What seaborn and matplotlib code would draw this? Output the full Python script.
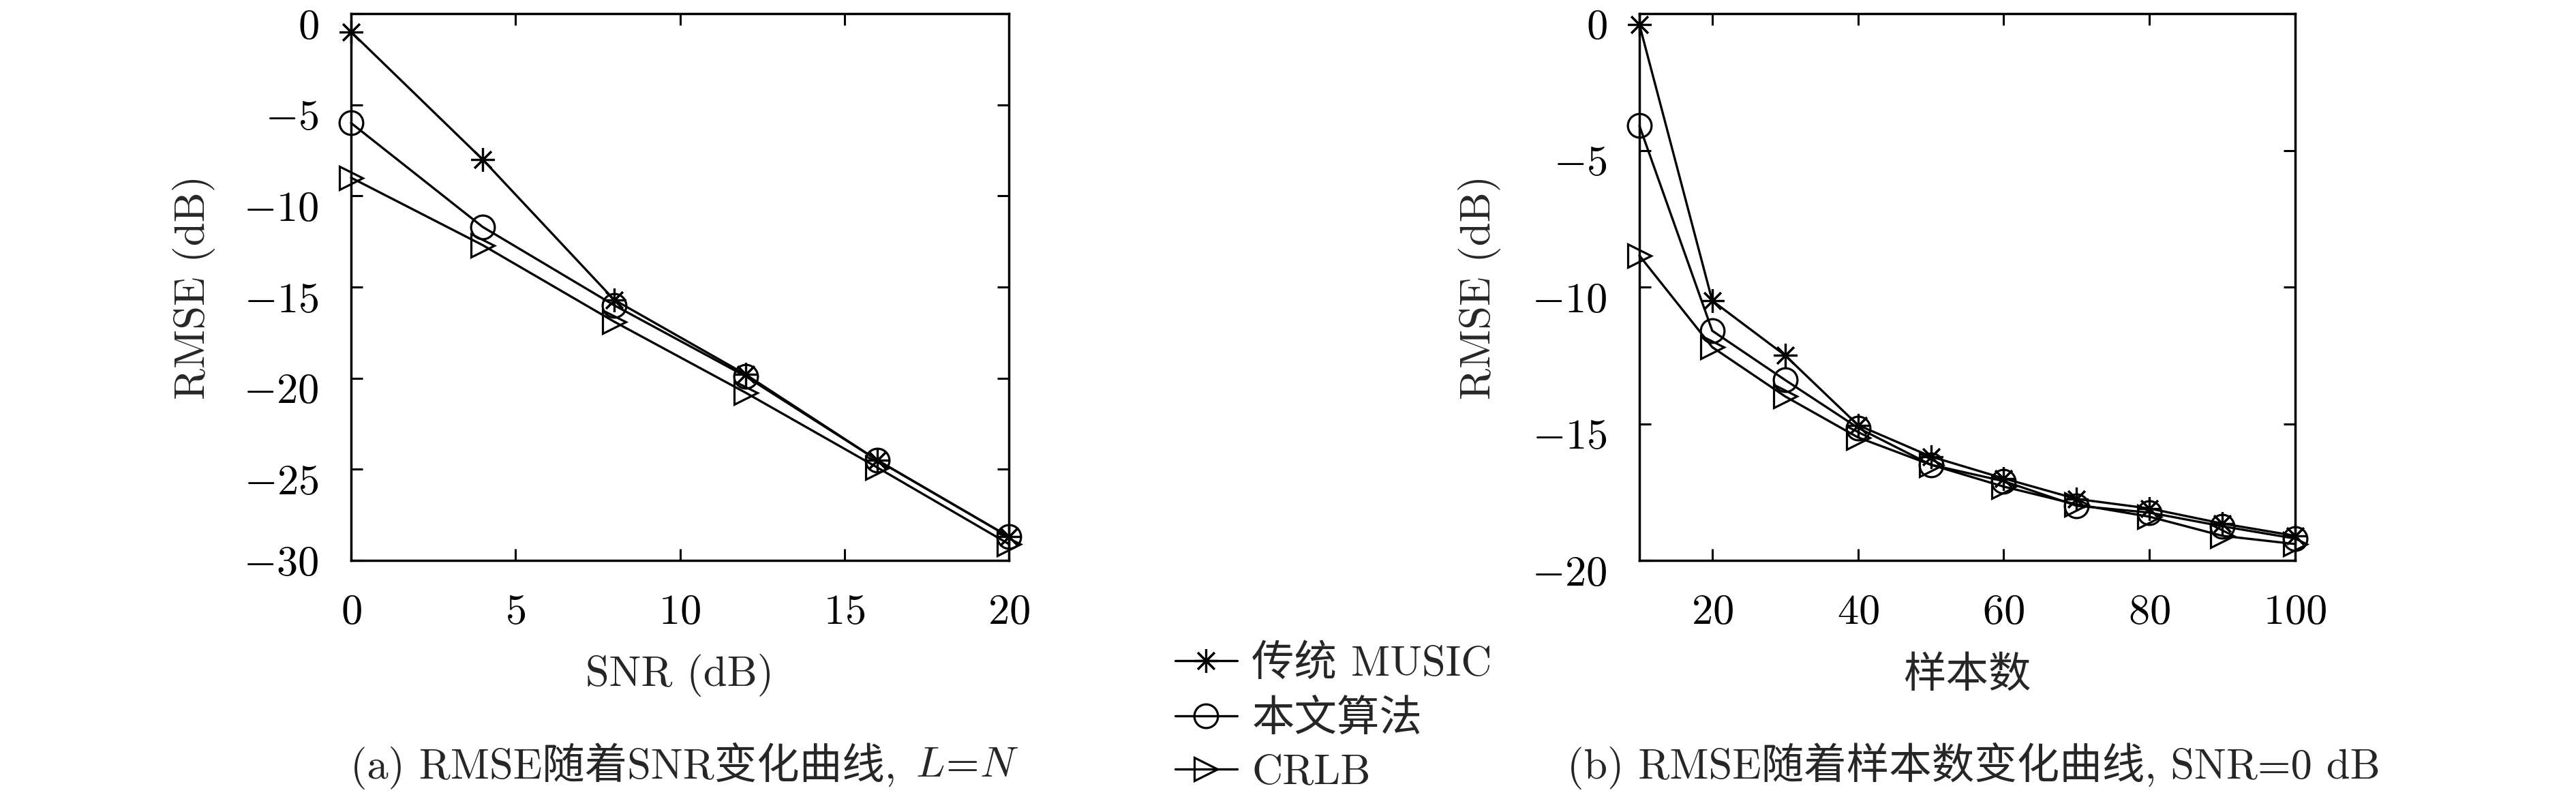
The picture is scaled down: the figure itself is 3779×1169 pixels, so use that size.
import matplotlib
matplotlib.use("Agg")
import matplotlib.pyplot as plt
import matplotlib.transforms as mtransforms
import seaborn as sns

# 图(a): RMSE vs SNR, L=N
snr = [0, 4, 8, 12, 16, 20]
music_a = [-1.0, -8.0, -15.7, -19.8, -24.5, -28.7]
ours_a = [-6.0, -11.7, -16.0, -19.9, -24.5, -28.7]
crlb_a = [-9.0, -12.7, -16.9, -20.8, -24.9, -29.1]

# 图(b): RMSE vs 样本数, SNR=0 dB
samples = [10, 20, 30, 40, 50, 60, 70, 80, 90, 100]
music_b = [-0.4, -10.5, -12.5, -15.05, -16.2, -17.0, -17.75, -18.1, -18.65, -19.1]
ours_b = [-4.1, -11.6, -13.4, -15.15, -16.5, -17.1, -18.0, -18.25, -18.75, -19.2]
crlb_b = [-8.85, -12.2, -14.0, -15.5, -16.5, -17.3, -17.95, -18.4, -19.1, -19.4]

labels = ["传统 MUSIC", "本文算法", "CRLB"]
markers = [(8, 2, 0), "o", ">"]

sns.set_style("ticks")
plt.rcParams["font.family"] = ["cmr10", "Noto Sans CJK SC"]
plt.rcParams["mathtext.fontset"] = "cm"
plt.rcParams["axes.formatter.use_mathtext"] = True
plt.rcParams["axes.unicode_minus"] = True

FS = 45
W, H = 3780, 1169
fig = plt.figure(figsize=(W / 100, H / 100), dpi=100)

ax_a = fig.add_axes([515 / W, 1 - 822 / H, (1480 - 515) / W, (822 - 20) / H])
ax_b = fig.add_axes([2405 / W, 1 - 822 / H, (3367 - 2405) / W, (822 - 20) / H])


def draw(ax, x, series):
    for y, m, lab in zip(series, markers, labels):
        sns.lineplot(x=x, y=y, ax=ax, color="k", linewidth=2.4, marker=m,
                     markersize=25, markerfacecolor="none", markeredgecolor="k",
                     markeredgewidth=2.3, label=lab, legend=False, clip_on=False)
    for s in ax.spines.values():
        s.set_linewidth(2.5)
        s.set_color("k")
    ax.tick_params(direction="in", length=12, width=2.2, top=True, right=True,
                   labelsize=FS, colors="k")
    ax.tick_params(axis="x", pad=36)
    ax.tick_params(axis="y", pad=34)
    # tick labels sit a bit lower than the ticks in the original
    off = mtransforms.ScaledTranslation(0, -0.15, fig.dpi_scale_trans)
    for t in ax.get_yticklabels():
        t.set_transform(t.get_transform() + off)


draw(ax_a, snr, [music_a, ours_a, crlb_a])
ax_a.set_xlim(0, 20)
ax_a.set_ylim(-30, 0)
ax_a.set_xticks([0, 5, 10, 15, 20])
ax_a.set_yticks([0, -5, -10, -15, -20, -25, -30])
ax_a.set_xlabel("SNR (dB)", fontsize=FS, va="center")
ax_a.set_ylabel("RMSE (dB)", fontsize=FS, va="center")
ax_a.xaxis.set_label_coords(0.5, -(991 - 822) / 802)
ax_a.yaxis.set_label_coords(-231 / 965, 0.5)

draw(ax_b, samples, [music_b, ours_b, crlb_b])
ax_b.set_xlim(10, 100)
ax_b.set_ylim(-20, 0)
ax_b.set_xticks([20, 40, 60, 80, 100])
ax_b.set_yticks([0, -5, -10, -15, -20])
ax_b.set_xlabel("样本数", fontsize=FS, va="center")
ax_b.set_ylabel("RMSE (dB)", fontsize=FS, va="center")
ax_b.xaxis.set_label_coords(0.5, -(991 - 822) / 802)
ax_b.yaxis.set_label_coords(-235 / 962, 0.5)

handles, labs = ax_a.get_legend_handles_labels()
fig.legend(handles, labs, loc="upper left", bbox_to_anchor=(1724 / W, 1 - 945 / H),
           frameon=False, fontsize=FS, handlelength=1.45, handletextpad=0.35,
           labelspacing=0.36, borderpad=0, borderaxespad=0)

# caption (a): the CJK part and the math part are separate texts,
# because mathtext does not fall back to the CJK font
cap_y = 1 - 1123 / H
cap_a = fig.text(514 / W, cap_y, "(a) RMSE随着SNR变化曲线, ",
                 ha="left", va="center", fontsize=FS)
fig.canvas.draw()
bb = cap_a.get_window_extent()
fig.text(bb.x1 / W + 0.002, cap_y, "$L\\!=\\!N$", ha="left", va="center", fontsize=FS)

fig.text(2895 / W, cap_y, "(b) RMSE随着样本数变化曲线, SNR=0 dB",
         ha="center", va="center", fontsize=FS)

fig.savefig("out.png", dpi=100)
